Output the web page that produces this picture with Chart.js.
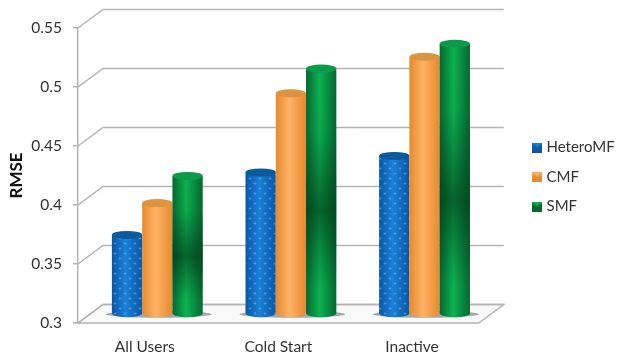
<!DOCTYPE html>
<html>
<head>
<meta charset="utf-8">
<title>RMSE</title>
<style>
  html, body { margin: 0; background: #fff; }
  #wrap { width: 617px; height: 360px; }
</style>
<script src="https://cdn.jsdelivr.net/npm/chart.js@4"></script>
</head>
<body>
<div id="wrap"><canvas id="rmseChart" width="617" height="360"></canvas></div>
<script>
const categories = ["All Users", "Cold Start", "Inactive"];
const seriesNames = ["HeteroMF", "CMF", "SMF"];
const heteroMF = [0.367, 0.420, 0.434];
const cmf = [0.394, 0.487, 0.518];
const smf = [0.417, 0.508, 0.529];
const yTicks = [0.3, 0.35, 0.4, 0.45, 0.5, 0.55];

const GRID = "#b4b4b4";
// depth of the fake 3D box, and how far into it the bars stand
const DEPTH_X = 25, DEPTH_Y = 18.5;
const BAR_DX = 12.5, BAR_DY = 9;
const CAP_RY = 4;

const looks = [
  { edge: "#0a56a6", mid: "#1a80d8", cap: "#0a5a9c" },
  { edge: "#e58a2f", mid: "#ffb264", cap: "#dd9440" },
  { edge: "#04682f", mid: "#0cb254", cap: "#0b9a49" }
];

function dotPattern(ctx) {
  const c = document.createElement("canvas");
  c.width = c.height = 10;
  const g = c.getContext("2d");
  g.fillStyle = "rgba(130,200,245,0.65)";
  [[2.5, 2.5], [7.5, 7.5]].forEach(([x, y]) => {
    g.beginPath();
    g.arc(x, y, 1, 0, Math.PI * 2);
    g.fill();
  });
  return ctx.createPattern(c, "repeat");
}

// small gradient squares for the legend
function legendSwatch(i) {
  const c = document.createElement("canvas");
  c.width = c.height = 10;
  const g = c.getContext("2d");
  const grad = g.createLinearGradient(0, 0, 0, 10);
  grad.addColorStop(0, looks[i].mid);
  grad.addColorStop(0.5, looks[i].edge);
  grad.addColorStop(1, looks[i].edge);
  g.fillStyle = grad;
  g.fillRect(0, 0, 10, 10);
  g.fillStyle = looks[i].mid;
  g.beginPath();
  g.moveTo(2, 1); g.lineTo(8, 1); g.lineTo(5, 5);
  g.fill();
  return c;
}

function drawCylinder(ctx, bar, i) {
  const { x, y, base, width } = bar.getProps(["x", "y", "base", "width"], true);
  const left = x - width / 2, right = x + width / 2, rx = width / 2;
  const look = looks[i];

  const body = new Path2D();
  body.moveTo(left, y);
  body.lineTo(left, base);
  body.ellipse(x, base, rx, CAP_RY, 0, Math.PI, 0, true);
  body.lineTo(right, y);
  body.closePath();

  const side = ctx.createLinearGradient(left, 0, right, 0);
  side.addColorStop(0, look.edge);
  side.addColorStop(0.45, look.mid);
  side.addColorStop(1, look.edge);
  ctx.fillStyle = side;
  ctx.fill(body);

  if (i === 0) {
    ctx.fillStyle = dotPattern(ctx);
    ctx.fill(body);
  }
  if (i === 2) {
    // dark band across the green tubes
    const band = ctx.createLinearGradient(0, y, 0, base);
    band.addColorStop(0, "rgba(0,50,20,0)");
    band.addColorStop(0.25, "rgba(0,50,20,0.05)");
    band.addColorStop(0.58, "rgba(0,50,20,0.6)");
    band.addColorStop(0.9, "rgba(0,50,20,0)");
    ctx.fillStyle = band;
    ctx.fill(body);
  }

  ctx.fillStyle = look.cap;
  ctx.beginPath();
  ctx.ellipse(x, y, rx, CAP_RY, 0, 0, Math.PI * 2);
  ctx.fill();
}

const box3d = {
  id: "box3d",
  beforeDatasetsDraw(chart) {
    const { ctx, chartArea: a, scales: { y: yScale } } = chart;
    const floorY = yScale.getPixelForValue(yTicks[0]);

    ctx.save();
    // floor
    ctx.beginPath();
    ctx.moveTo(a.left, floorY);
    ctx.lineTo(a.right, floorY);
    ctx.lineTo(a.right + DEPTH_X, floorY - DEPTH_Y);
    ctx.lineTo(a.left + DEPTH_X, floorY - DEPTH_Y);
    ctx.closePath();
    ctx.fillStyle = "#f9f9f9";
    ctx.fill();
    ctx.strokeStyle = GRID;
    ctx.lineWidth = 1.5;
    ctx.stroke();

    // wall lines and the slanted bit on the side wall
    yTicks.forEach(v => {
      const py = yScale.getPixelForValue(v);
      ctx.beginPath();
      ctx.moveTo(a.left, py);
      ctx.lineTo(a.left + DEPTH_X, py - DEPTH_Y);
      ctx.lineTo(a.right + DEPTH_X, py - DEPTH_Y);
      ctx.stroke();
    });
    ctx.restore();
  },
  // the default draw order would paint the first series on top
  beforeDatasetDraw() {
    return false;
  },
  afterDatasetsDraw(chart) {
    const { ctx } = chart;
    ctx.save();
    ctx.translate(BAR_DX, -BAR_DY);

    // shadow on the floor under each group
    categories.forEach((c, k) => {
      const first = chart.getDatasetMeta(0).data[k];
      const last = chart.getDatasetMeta(2).data[k];
      const x0 = first.x - first.width / 2 - 6;
      const x1 = last.x + last.width / 2 + 9;
      ctx.fillStyle = "rgba(95,115,125,0.6)";
      ctx.beginPath();
      ctx.ellipse((x0 + x1) / 2, first.base + 1, (x1 - x0) / 2, 3.5, 0, 0, Math.PI * 2);
      ctx.fill();
    });

    seriesNames.forEach((name, i) => {
      chart.getDatasetMeta(i).data.forEach(bar => drawCylinder(ctx, bar, i));
    });
    ctx.restore();
  },
  // legend sits clear of the plot, close to the right edge
  afterLayout(chart) {
    chart.legend.left = 520.5;
    chart.legend.right = 617;
    chart.legend.top -= 17;
    chart.legend.bottom -= 17;
  }
};

new Chart(document.getElementById("rmseChart"), {
  type: "bar",
  data: {
    labels: categories,
    datasets: [
      { label: seriesNames[0], data: heteroMF, base: yTicks[0], backgroundColor: looks[0].mid },
      { label: seriesNames[1], data: cmf, base: yTicks[0], backgroundColor: looks[1].mid },
      { label: seriesNames[2], data: smf, base: yTicks[0], backgroundColor: looks[2].mid }
    ]
  },
  plugins: [box3d],
  options: {
    responsive: false,
    animation: false,
    layout: { padding: { top: 28, right: 34, left: 6, bottom: 0 } },
    datasets: { bar: { categoryPercentage: 0.68, barPercentage: 1 } },
    plugins: {
      tooltip: { enabled: false },
      legend: {
        position: "right",
        labels: {
          usePointStyle: true,
          pointStyleWidth: 4,
          padding: 14.5,
          color: "#333",
          font: { family: "Lato", size: 15 },
          generateLabels: () => seriesNames.map((text, i) => ({
            text,
            datasetIndex: i,
            pointStyle: legendSwatch(i),
            fontColor: "#333"
          }))
        }
      }
    },
    scales: {
      x: {
        afterFit: s => { s.height = 37; },
        grid: { display: false },
        border: { display: false },
        ticks: { color: "#333", padding: 7, font: { family: "Lato", size: 15.5 } }
      },
      y: {
        min: 0.3,
        max: 0.55,
        afterBuildTicks: s => { s.ticks = yTicks.map(value => ({ value })); },
        afterFit: s => { s.width = 72; },
        grid: { drawOnChartArea: false, color: GRID, tickLength: 5, lineWidth: 1.5 },
        border: { color: GRID, width: 1.5 },
        title: {
          display: true,
          text: "RMSE",
          color: "#111",
          padding: 0,
          font: { family: "Lato", size: 17, weight: "bold" }
        },
        ticks: {
          color: "#333",
          padding: 11,
          font: { family: "Lato", size: 15.5 },
          callback: v => String(v)
        }
      }
    }
  }
});
</script>
</body>
</html>
